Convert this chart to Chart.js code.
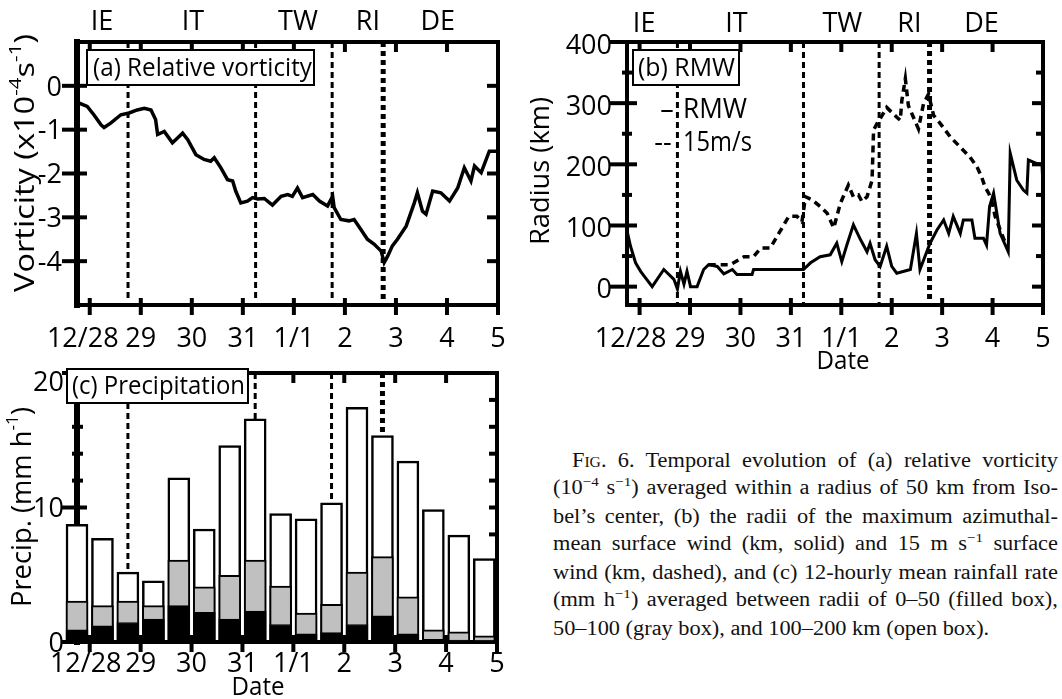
<!DOCTYPE html>
<html><head><meta charset="utf-8">
<script src="https://cdn.jsdelivr.net/npm/chart.js@4.4.1/dist/chart.umd.min.js"></script>
<style>
html,body{margin:0;padding:0;background:#fff;}
#wrap{position:relative;width:1062px;height:699px;overflow:hidden;background:#fff;}
canvas{position:absolute;}
#cap{position:absolute;left:553px;top:447px;font-family:"Liberation Serif","Times New Roman",serif;font-size:20px;line-height:26.5px;color:#111;transform:scaleX(1.117);transform-origin:0 0;width:452px;}
#cap div{text-align:justify;text-align-last:justify;}
#cap div.last{text-align:left;text-align-last:left;}
.sup{font-size:13.5px;position:relative;top:-8px;}
</style></head>
<body>
<div id="wrap">
<canvas id="ca" width="530" height="350" style="left:0;top:0;width:530px;height:350px"></canvas>
<canvas id="cb" width="532" height="380" style="left:530px;top:0;width:532px;height:380px"></canvas>
<canvas id="cc" width="530" height="349" style="left:0;top:350px;width:530px;height:349px"></canvas>
<div id="cap">
<div style="padding-left:17px"><span style="font-variant:small-caps">Fig</span>. 6. Temporal evolution of (a) relative vorticity</div>
<div>(10<span class="sup">−4</span> s<span class="sup">−1</span>) averaged within a radius of 50 km from Iso-</div>
<div>bel’s center, (b) the radii of the maximum azimuthal-</div>
<div>mean surface wind (km, solid) and 15 m s<span class="sup">−1</span> surface</div>
<div>wind (km, dashed), and (c) 12-hourly mean rainfall rate</div>
<div>(mm h<span class="sup">−1</span>) averaged between radii of 0–50 (filled box),</div>
<div class="last">50–100 (gray box), and 100–200 km (open box).</div>
</div>
</div>
<script>
// ---------- DATA (time in days from 12/28 00Z) ----------
const dayTicks = [0,1,2,3,4,5,6,7,8];
const dayLabels = ['12/28','29','30','31','1/1','2','3','4','5'];
const phaseNames = ['IE','IT','TW','RI','DE'];
const phaseBounds = [0.75,3.25,4.75,5.75];

const vortTime = [-0.24,-0.05,0.08,0.22,0.28,0.41,0.61,0.77,0.93,1.07,1.2,1.29,1.33,1.46,1.62,1.72,1.82,1.92,2.08,2.24,2.37,2.44,2.57,2.70,2.80,2.86,2.96,3.09,3.19,3.29,3.42,3.58,3.75,3.88,3.97,4.07,4.17,4.37,4.50,4.66,4.76,4.79,4.92,5.08,5.18,5.31,5.44,5.57,5.71,5.77,5.84,5.93,6.03,6.20,6.36,6.42,6.52,6.59,6.72,6.88,7.05,7.21,7.34,7.47,7.54,7.67,7.83,7.99];
const vortVal = [-0.38,-0.47,-0.66,-0.89,-0.95,-0.85,-0.66,-0.62,-0.55,-0.51,-0.55,-0.77,-1.11,-1.04,-1.30,-1.19,-1.08,-1.23,-1.57,-1.68,-1.72,-1.64,-1.87,-2.14,-2.17,-2.40,-2.67,-2.63,-2.55,-2.58,-2.57,-2.72,-2.52,-2.48,-2.52,-2.33,-2.55,-2.48,-2.63,-2.74,-2.52,-2.78,-3.05,-3.08,-3.05,-3.27,-3.50,-3.61,-3.77,-4.03,-3.88,-3.65,-3.50,-3.20,-2.67,-2.44,-2.86,-2.93,-2.40,-2.44,-2.63,-2.33,-1.87,-2.17,-1.83,-1.98,-1.49,-1.49];
const vortTicks = [-4,-3,-2,-1,0];

const rmwTime = [-0.24,-0.18,-0.08,0.02,0.25,0.48,0.68,0.75,0.81,0.88,0.94,1.01,1.14,1.27,1.37,1.54,1.67,1.84,1.93,2.23,2.26,3.25,3.39,3.58,3.78,3.91,4.01,4.11,4.24,4.38,4.51,4.57,4.67,4.77,4.90,5.00,5.10,5.37,5.49,5.56,5.76,5.90,6.03,6.13,6.22,6.36,6.42,6.59,6.65,6.82,6.88,6.94,7.02,7.15,7.31,7.35,7.48,7.61,7.68,7.71,7.88,7.98,8.0];
const rmwVal = [88,66,39,25,0,28,12,-4,25,4,25,0,0,28,36,33,21,28,20,20,28,28,39,49,52,71,41,68,101,77,57,71,44,33,66,33,22,28,87,28,71,93,109,87,115,87,109,109,79,79,68,131,153,87,57,218,174,158,153,207,201,201,163];
const w15Time = [1.37,1.80,2.07,2.26,2.40,2.59,2.76,2.96,3.12,3.22,3.29,3.42,3.58,3.72,3.85,3.98,4.14,4.24,4.34,4.41,4.51,4.61,4.64,4.71,4.81,4.90,5.00,5.10,5.17,5.20,5.27,5.33,5.43,5.53,5.63,5.73,5.83,5.96,6.16,6.36,6.55,6.69,6.78,6.85,6.92,6.98,7.05,7.15,7.28];
const w15Val = [36,36,49,49,63,63,87,115,115,106,147,142,131,120,96,136,166,147,150,139,147,174,256,267,280,293,285,277,272,304,340,296,277,258,299,315,280,267,245,228,212,196,180,163,153,142,115,93,66];
const radiusTicks = [0,100,200,300,400];
const radiusMinor = [50,150,250,350];

const precipTime = [-0.25,0.25,0.75,1.25,1.75,2.25,2.75,3.25,3.75,4.25,4.75,5.25,5.75,6.25,6.75,7.25,7.75];
const precipInner = [0.9,1.2,1.45,1.7,2.7,2.2,1.7,2.3,1.3,0.6,0.7,1.3,1.95,0.6,0.2,0.15,0.1];   // filled box (top)
const precipMid   = [3.05,2.7,3.05,2.7,6.1,4.1,4.95,6.1,4.15,2.15,2.8,5.2,6.35,3.35,0.9,0.75,0.45]; // gray box (top)
const precipOuter = [8.75,7.7,5.2,4.55,12.2,8.4,14.6,16.6,9.55,9.15,10.35,17.45,15.35,13.45,9.85,7.95,6.2]; // open box (top)
const precipTicks = [0,10,20];
const precipMinor = [2,4,6,8,12,14,16,18];

// ---------- helpers ----------
const FONT = '"Open Sans", "DejaVu Sans", sans-serif';
function seg(ctx,x1,y1,x2,y2,w){ctx.lineWidth=w;ctx.beginPath();ctx.moveTo(x1,y1);ctx.lineTo(x2,y2);ctx.stroke();}
function fitText(ctx,text,x,y,size,width,align){
  ctx.save();ctx.font=size+'px '+FONT;
  const w=ctx.measureText(text).width; const sx=width?width/w:1;
  ctx.translate(x,y);ctx.scale(sx,1);ctx.textAlign=align||'left';ctx.textBaseline='middle';ctx.fillStyle='#000';
  ctx.fillText(text,0,0);ctx.restore();
}
function richText(ctx,parts,cx,cy,size,width,rot){
  ctx.save();
  const ws=parts.map(p=>{ctx.font=(p.sup?Math.round(size*0.62):size)+'px '+FONT;return ctx.measureText(p.t).width;});
  const tot=ws.reduce((s,v)=>s+v,0);
  ctx.translate(cx,cy);ctx.rotate(rot||0);ctx.scale(width/tot,1);
  ctx.textBaseline='middle';ctx.textAlign='left';ctx.fillStyle='#000';
  let x=-tot/2;
  parts.forEach((p,i)=>{ctx.font=(p.sup?Math.round(size*0.62):size)+'px '+FONT;ctx.fillText(p.t,x,p.sup?-size*0.36:0);x+=ws[i];});
  ctx.restore();
}
function vlines(ctx,xs,top,bottom){
  ctx.save();ctx.strokeStyle='#000';ctx.lineCap='butt';
  phaseBounds.forEach((d,i)=>{const x=xs.getPixelForValue(d);
    ctx.setLineDash(i===3?[5,4]:[6,4]);ctx.lineWidth=i===3?5:3;
    ctx.beginPath();ctx.moveTo(x,top);ctx.lineTo(x,bottom);ctx.stroke();});
  ctx.restore();
}
function frame(ctx,a,wl,w){
  ctx.save();ctx.strokeStyle='#000';ctx.lineCap='square';
  seg(ctx,a.left,a.top,a.right,a.top,w);seg(ctx,a.right,a.top,a.right,a.bottom,w);
  seg(ctx,a.left,a.bottom,a.right,a.bottom,w);seg(ctx,a.left,a.top,a.left,a.bottom,wl);
  ctx.restore();
}
function xTickMarks(ctx,xs,a){
  ctx.save();ctx.strokeStyle='#000';ctx.lineCap='butt';
  dayTicks.forEach(d=>{const x=xs.getPixelForValue(d);seg(ctx,x,a.bottom-7,x,a.bottom+10,4);seg(ctx,x,a.top,x,a.top+10,4);});
  ctx.restore();
}
function yTickMarks(ctx,ys,a,vals,outL,inL,rL,w){
  ctx.save();ctx.strokeStyle='#000';ctx.lineCap='butt';
  vals.forEach(v=>{const y=ys.getPixelForValue(v);seg(ctx,a.left-outL,y,a.left+inL,y,w);seg(ctx,a.right-rL,y,a.right,y,w);});
  ctx.restore();
}
function xLabels(ctx,xs,yc,firstOff){
  ctx.save();ctx.font='27px '+FONT;ctx.textAlign='center';ctx.textBaseline='middle';ctx.fillStyle='#000';
  dayTicks.forEach((d,i)=>ctx.fillText(dayLabels[i],xs.getPixelForValue(d)+(i===0?firstOff:0),yc));
  ctx.restore();
}
function yLabels(ctx,ys,vals,xr,off,topOff){
  ctx.save();ctx.font='27px '+FONT;ctx.textAlign='right';ctx.textBaseline='middle';ctx.fillStyle='#000';
  vals.forEach((v,i)=>ctx.fillText(String(v),xr,ys.getPixelForValue(v)+off+(i===vals.length-1?(topOff||0):0)));
  ctx.restore();
}
function phaseLabels(ctx,xs,pos,yc){
  ctx.save();ctx.font='27px '+FONT;ctx.textAlign='center';ctx.textBaseline='middle';ctx.fillStyle='#000';
  phaseNames.forEach((n,i)=>ctx.fillText(n,xs.getPixelForValue(pos[i]),yc));
  ctx.restore();
}
function titleBox(ctx,x,y,w,h,text,tx,tw){
  ctx.save();ctx.fillStyle='#fff';ctx.fillRect(x,y,w,h);ctx.strokeStyle='#000';ctx.lineWidth=2;ctx.strokeRect(x,y,w,h);ctx.restore();
  fitText(ctx,text,tx,y+h/2+1,25,tw,'left');
}
const baseOpts=(pad,ymin,ymax)=>({
  responsive:false,animation:false,devicePixelRatio:1,
  layout:{padding:pad},
  plugins:{legend:{display:false},tooltip:{enabled:false}},
  elements:{point:{radius:0},line:{tension:0}},
  scales:{x:{type:'linear',min:-0.25,max:8,offset:false,display:false},y:{type:'linear',min:ymin,max:ymax,display:false}}
});

// ---------- (a) vorticity ----------
const decoA={id:'decoA',
  beforeDatasetsDraw(ch){const {ctx,chartArea:a,scales:{x}}=ch;vlines(ctx,x,a.top,a.bottom-3);},
  afterDatasetsDraw(ch){const {ctx,chartArea:a,scales:{x,y}}=ch;
    frame(ctx,a,6,4);xTickMarks(ctx,x,a);yTickMarks(ctx,y,a,vortTicks,15,10,11,4);
    xLabels(ctx,x,339,-7);yLabels(ctx,y,vortTicks,62,2);
    phaseLabels(ctx,x,[0.24,2.02,4.08,5.45,6.82],22);
    titleBox(ctx,87,50,227,35,'(a) Relative vorticity',93,219);
    richText(ctx,[{t:'Vorticity (x10'},{t:'-4',sup:true},{t:'s'},{t:'-1',sup:true},{t:')'}],26,163,27,258,-Math.PI/2);
  }};
new Chart(document.getElementById('ca'),{type:'line',
  data:{datasets:[{data:vortTime.map((t,i)=>({x:t,y:vortVal[i]})),borderColor:'#000',borderWidth:3.5,fill:false}]},
  options:baseOpts({left:77,right:32,top:42,bottom:45},-5,1),plugins:[decoA]});

// ---------- (b) RMW ----------
const decoB={id:'decoB',
  beforeDatasetsDraw(ch){const {ctx,chartArea:a,scales:{x}}=ch;vlines(ctx,x,a.top,a.bottom);},
  afterDatasetsDraw(ch){const {ctx,chartArea:a,scales:{x,y}}=ch;
    frame(ctx,a,4,4);xTickMarks(ctx,x,a);
    yTickMarks(ctx,y,a,radiusTicks,17,10,11,4);yTickMarks(ctx,y,a,radiusMinor,5,5,7,4);
    xLabels(ctx,x,339,-9);yLabels(ctx,y,radiusTicks,82,4);
    phaseLabels(ctx,x,[0.09,1.92,4.02,5.35,6.78],24);
    titleBox(ctx,103,50,106,35,'(b) RMW',108,97);
    fitText(ctx,'–',137,110,27,0,'center');fitText(ctx,'RMW',153,110,27,64,'left');
    fitText(ctx,'--',133,143,27,0,'center');fitText(ctx,'15m/s',153,143,27,69,'left');
    richText(ctx,[{t:'Radius (km)'}],11,171,27,148,-Math.PI/2);
    fitText(ctx,'Date',313,362,26,53,'center');
  }};
new Chart(document.getElementById('cb'),{type:'line',
  data:{datasets:[
    {data:rmwTime.map((t,i)=>({x:t,y:rmwVal[i]})),borderColor:'#000',borderWidth:3,fill:false},
    {data:w15Time.map((t,i)=>({x:t,y:w15Val[i]})),borderColor:'#000',borderWidth:3.5,borderDash:[7,5],fill:false}]},
  options:baseOpts({left:97,right:19,top:42,bottom:75},-30,400),plugins:[decoB]});

// ---------- (c) precipitation ----------
const decoC={id:'decoC',
  beforeDatasetsDraw(ch){const {ctx,chartArea:a,scales:{x,y}}=ch;
    vlines(ctx,x,a.top,a.bottom);frame(ctx,a,6,4);xTickMarks(ctx,x,a);
    yTickMarks(ctx,y,a,precipTicks,15,10,8,4);yTickMarks(ctx,y,a,precipMinor,5,6,8,4);},
  afterDatasetsDraw(ch){const {ctx,chartArea:a,scales:{x,y}}=ch;
    xLabels(ctx,x,314,-4);yLabels(ctx,y,precipTicks,64,2,8);
    titleBox(ctx,67,19,181,34,'(c) Precipitation',72,173);
    richText(ctx,[{t:'Precip. (mm h'},{t:'-1',sup:true},{t:')'}],23,157,27,200,-Math.PI/2);
    fitText(ctx,'Date',258,338,26,53,'center');
  }};
const barDs=(vals,fill,order,bw)=>({data:precipTime.map((t,i)=>({x:t,y:vals[i]})),backgroundColor:fill,borderColor:'#000',
  borderWidth:bw,borderSkipped:false,grouped:false,barThickness:22,order:order,clip:false});
const optsC=baseOpts({left:77,right:33,top:23,bottom:57},0,20);
new Chart(document.getElementById('cc'),{type:'bar',
  data:{datasets:[barDs(precipInner,'#000',0,1),barDs(precipMid,'#c0c0c0',1,2),barDs(precipOuter,'#fff',2,2.5)]},
  options:optsC,plugins:[decoC]});
</script>
</body></html>
